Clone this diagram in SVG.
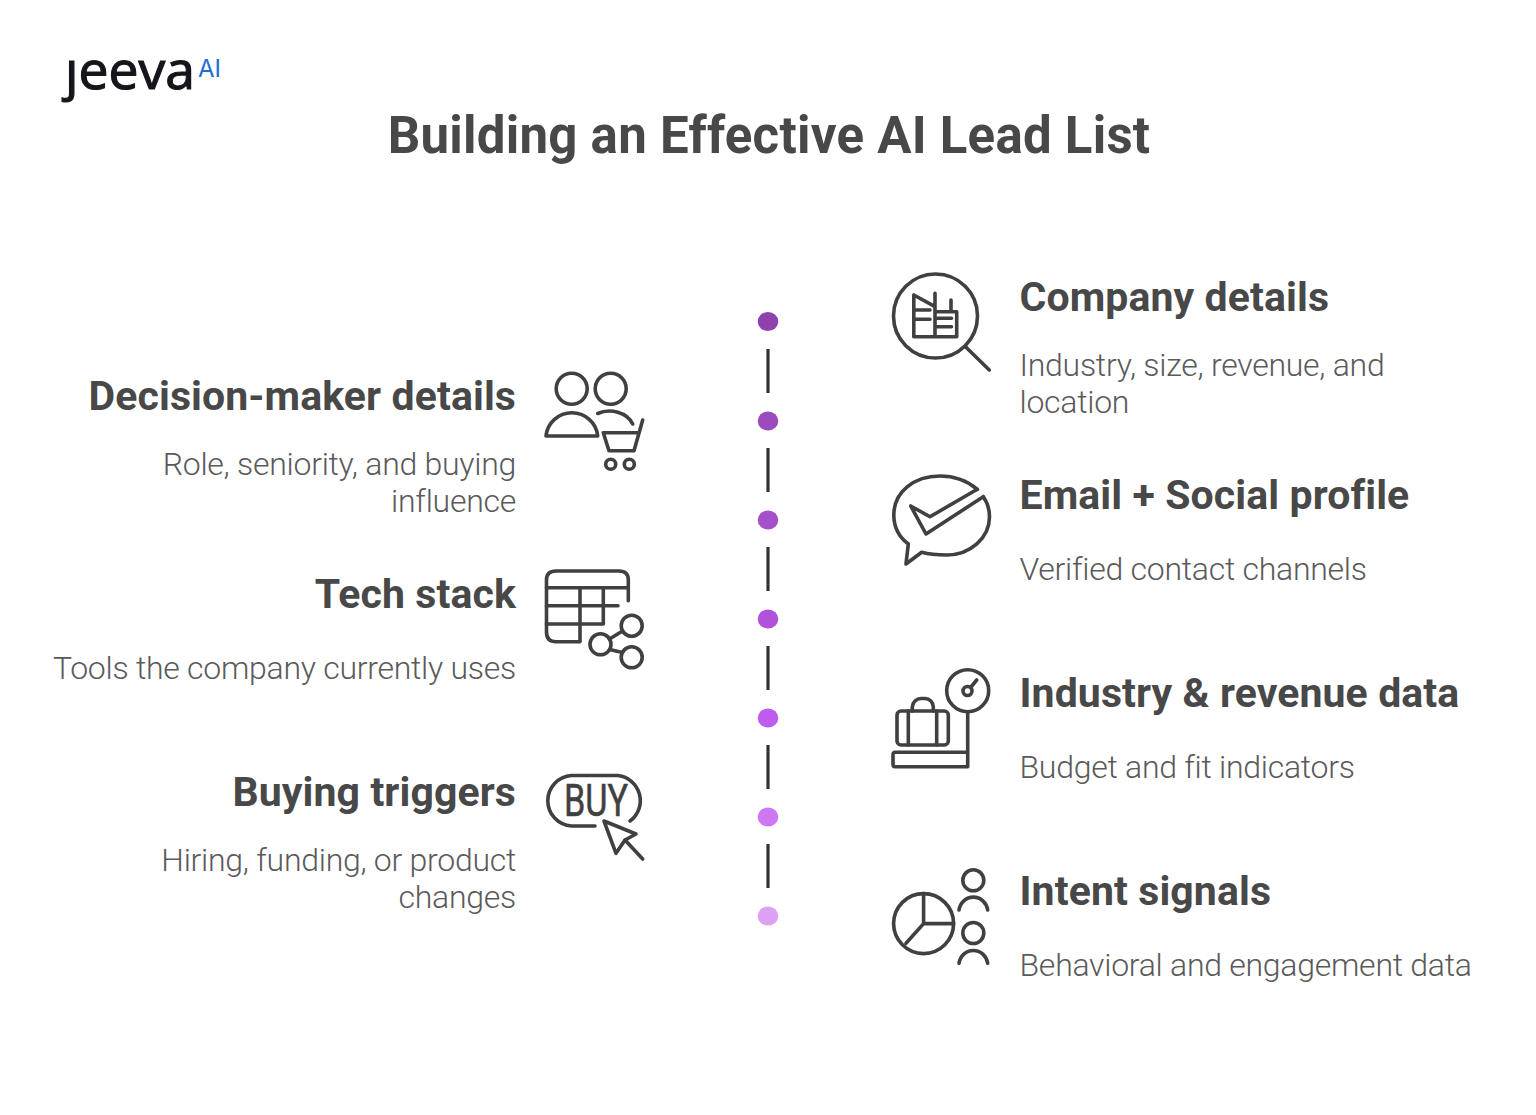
<svg xmlns="http://www.w3.org/2000/svg" width="1536" height="1115" viewBox="0 0 1536 1115">
<defs><clipPath id="nodot"><rect x="40" y="58" width="170" height="60"/></clipPath></defs>
<style>
text{font-family:Roboto,"Liberation Sans",sans-serif}
.t{font-size:51px;font-weight:700;fill:#484848;letter-spacing:.25px}
.h{font-size:41px;font-weight:700;fill:#484848;letter-spacing:.1px}
.d{font-size:32px;font-weight:350;fill:#5a5a5a;letter-spacing:-.27px}
.e{text-anchor:end}
.i{fill:none;stroke:#404040;stroke-width:3.6;stroke-linecap:round;stroke-linejoin:round}
.c{stroke:#333;stroke-width:3.2}
</style>
<rect width="1536" height="1115" fill="#fff"/>
<g id="logo">
<text x="65" y="89" font-size="53" textLength="130" lengthAdjust="spacingAndGlyphs" fill="#15151b" stroke="#15151b" stroke-width="1.2" clip-path="url(#nodot)" style="font-family:'Open Sans',sans-serif">jeeva</text>
<text x="198" y="77" font-size="24" fill="#1c6fd6" style="font-family:Inter,sans-serif">AI</text>
</g>
<text id="title" class="t" x="769" y="153" text-anchor="middle">Building an Effective AI Lead List</text>
<g id="connectors">
<line class="c" x1="768" y1="349" x2="768" y2="393"/>
<line class="c" x1="768" y1="448" x2="768" y2="492"/>
<line class="c" x1="768" y1="547" x2="768" y2="591"/>
<line class="c" x1="768" y1="646" x2="768" y2="690"/>
<line class="c" x1="768" y1="745" x2="768" y2="789"/>
<line class="c" x1="768" y1="844" x2="768" y2="888"/>
</g>
<g id="dots">
<ellipse cx="768" cy="321.5" rx="10.3" ry="9.5" fill="#8f42ad"/>
<ellipse cx="768" cy="421" rx="10.3" ry="9.5" fill="#9b4bbd"/>
<ellipse cx="768" cy="520" rx="10.3" ry="9.5" fill="#a64fca"/>
<ellipse cx="768" cy="619" rx="10.3" ry="9.5" fill="#b152dc"/>
<ellipse cx="768" cy="718" rx="10.3" ry="9.5" fill="#bf5cef"/>
<ellipse cx="768" cy="817" rx="10.3" ry="9.5" fill="#cf77f3"/>
<ellipse cx="768" cy="916" rx="10.3" ry="9.5" fill="#dea0f5"/>
</g>
<g id="decision-maker">
<text class="h e" x="516" y="410">Decision-maker details</text>
<text class="d e" x="516" y="475">Role, seniority, and buying</text>
<text class="d e" x="516" y="512">influence</text>
<g class="i">
<circle cx="571.7" cy="388.8" r="15.5"/><circle cx="610.7" cy="388.8" r="15.5"/>
<path d="M546 436A26 26 0 0 1 597.7 436Z"/>
<path d="M597.7 413.5C610 408 627 412 632.7 424"/>
<path d="M642.7 420L634 450.7H609L603.3 432.7H639.3"/>
<circle cx="610.7" cy="464.3" r="5"/><circle cx="629.3" cy="464.3" r="5"/>
</g>
</g>
<g id="tech-stack">
<text class="h e" x="516" y="608">Tech stack</text>
<text class="d e" x="516" y="679">Tools the company currently uses</text>
<g class="i">
<path d="M628.3 600.7V580Q628.3 571 619 571H556Q546.5 571 546.5 580V632Q546.5 641.7 556 641.7H580V587.7"/>
<path d="M546.5 587.7H628.3M546.5 605.7H618M546.5 624H603.3V587.7"/>
<circle cx="631.7" cy="625.7" r="10.5"/><circle cx="600.5" cy="644.3" r="10.5"/><circle cx="631.7" cy="657.3" r="10.5"/>
<path d="M609.5 639L622.5 631M609.5 649.5L622.5 652.5"/>
</g>
</g>
<g id="buying-triggers">
<text class="h e" x="516" y="806">Buying triggers</text>
<text class="d e" x="516" y="871">Hiring, funding, or product</text>
<text class="d e" x="516" y="908">changes</text>
<g class="i">
<path d="M595 826H571.5A25.3 25.3 0 0 1 571.5 775.5H618A25.3 25.3 0 0 1 630 821"/>
<path d="M604 821L636 834L625 840L616 853.3Z"/>
<path d="M625 840L642.7 859"/>
</g>
<text x="564" y="815.5" font-size="45" textLength="64" lengthAdjust="spacingAndGlyphs" fill="#404040" stroke="#404040" stroke-width=".6">BUY</text>
</g>
<g id="company-details">
<text class="h" x="1019.5" y="311">Company details</text>
<text class="d" x="1019.5" y="376">Industry, size, revenue, and</text>
<text class="d" x="1019.5" y="413">location</text>
<g class="i">
<circle cx="935.5" cy="316" r="42"/>
<path d="M966 347.3L989.3 370"/>
<path d="M935 306.7L913.8 295V336.7H956.7V311.7H935V293.3V336.7M951 300V311.7"/>
<path d="M913.8 310H930M913.8 319.3H930M937 318.3H951.5M937 326.7H951.5"/>
</g>
</g>
<g id="email-social">
<text class="h" x="1019.5" y="509">Email + Social profile</text>
<text class="d" x="1019.5" y="580">Verified contact channels</text>
<g class="i">
<path d="M977.3 489.3C965 479 952 476 940 476C914 476 893.8 492 893.8 515C893.8 527 899 537 908.3 544L906 564L921.7 552.3C928 554 938 555 946.7 555C970 555 989.5 538 989.5 516.7C989.5 508 987 502 983.3 496.7"/>
<path d="M977.3 489.3L930 516.7L910.7 506L926 534L983.3 496.7"/>
</g>
</g>
<g id="industry-revenue">
<text class="h" x="1019.5" y="707">Industry &amp; revenue data</text>
<text class="d" x="1019.5" y="778">Budget and fit indicators</text>
<g class="i">
<circle cx="967.7" cy="690.7" r="21"/><circle cx="967.5" cy="691" r="4.5"/>
<path d="M971 687L976.7 680M967.7 711.7V766.7H895Q893 766.7 893 764V755Q893 752.3 895 752.3H967.7"/>
<rect x="897" y="711" width="51.3" height="34" rx="4"/>
<path d="M908.3 711V745M936.7 711V745M912.3 711V707A9 9 0 0 1 921 698.5H925A8.5 8.5 0 0 1 933.3 707V711"/>
</g>
</g>
<g id="intent-signals">
<text class="h" x="1019.5" y="905">Intent signals</text>
<text class="d" x="1019.5" y="976">Behavioral and engagement data</text>
<g class="i">
<circle cx="923.6" cy="923.6" r="30"/>
<path d="M923.6 893.6V923.6H953.6M923.6 923.6L906 943.3"/>
<circle cx="973.3" cy="880.3" r="10.5"/><circle cx="973.3" cy="933" r="10.5"/>
<path d="M959 910A14.5 15 0 0 1 987.7 910M959 963.3A14.5 15 0 0 1 987.7 963.3"/>
</g>
</g>
</svg>
